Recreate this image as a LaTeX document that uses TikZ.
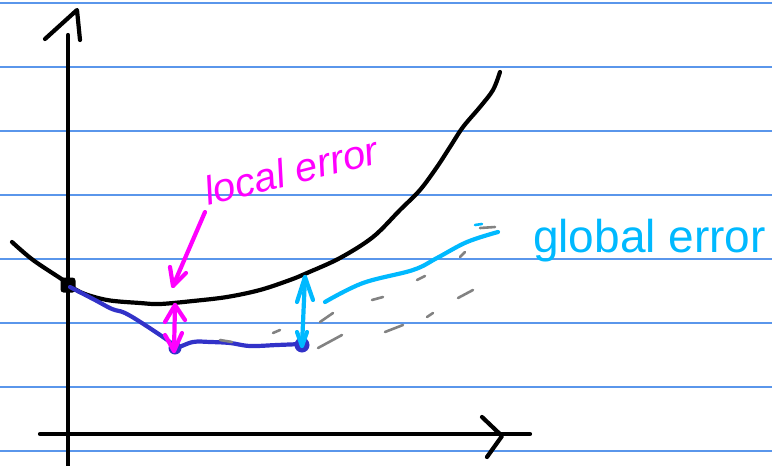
\documentclass[tikz,border=0pt]{standalone}
\usepackage{fontspec}
\setmainfont{Liberation Sans}
\usetikzlibrary{calc}
\definecolor{rule}{RGB}{90,150,235}
\definecolor{inkblue}{RGB}{50,50,200}
\definecolor{inkpink}{RGB}{255,0,255}
\definecolor{inkcyan}{RGB}{0,185,255}
\definecolor{inkgray}{RGB}{130,130,130}
\tikzset{
  ruleline/.style={rule, line width=1.3pt},
  pen/.style={line width=4.2pt, line cap=round, line join=round},
  thinpen/.style={line width=2.6pt, line cap=round, line join=round},
}
\begin{document}
\begin{tikzpicture}[x=1pt,y=-1pt]
\useasboundingbox (0,0) rectangle (772,466);
% ruled paper
\foreach \yy in {3,67,131,195,259,323,387,451}
  \draw[ruleline] (0,\yy) -- (772,\yy);
% axes
\coordinate (ytop) at (68,35);
\coordinate (ybot) at (68,466);
\draw[pen, black] (ybot) -- (ytop);
\draw[pen, black] (45,39) -- (77,10) -- (80,40);
\coordinate (xl) at (40,434);
\coordinate (xr) at (530,434);
\draw[pen, black] (xl) -- (xr);
\draw[pen, black] (482,417) -- (502,436) -- (487,457);
% black curve
\draw[pen, black] plot[smooth, tension=0.55] coordinates {(12,242) (33,260) (63,280) (80,292) (107,300) (140,303) (160,304) (193,301) (227,297) (260,290) (290,280) (307,273) (340,258) (373,237) (400,210) (420,190) (437,167) (450,147) (463,127) (480,107) (493,90) (500,72)};
\coordinate (p0) at (68,285);
\fill[black, rounded corners=3pt] ($(p0)+(-7.5,-7.5)$) rectangle ($(p0)+(7.5,7.5)$);
% blue approximation
\coordinate (b1) at (175,348);
\coordinate (b2) at (302,345);
\draw[pen, inkblue] plot[smooth, tension=0.6] coordinates {(70,287) (95,300) (112,309) (125,313) (145,325) (170,342) (175,348) (193,342) (210,342) (230,343) (250,346) (277,345) (302,344)};
\fill[inkblue] (b1) circle (6.5);
\fill[inkblue] (b2) circle (7.5);
% gray dashed strokes
\foreach \a/\b in {{(220,340)}/{(232,342)},{(273,333)}/{(280,330)},{(320,322)}/{(333,313)},{(372,300)}/{(383,297)},{(417,280)}/{(425,276)},{(460,257)}/{(465,252)},{(480,228)}/{(495,227)},{(318,348)}/{(342,335)},{(385,332)}/{(403,325)},{(427,317)}/{(433,313)},{(458,298)}/{(473,290)}}
  \draw[thinpen, inkgray] \a -- \b;
% local error
\node[inkpink, rotate=14, anchor=base west, inner sep=0pt, font=\fontsize{40}{40}\selectfont\itshape] (lerr) at (208,206) {local error};
\coordinate (la) at (205,212);
\coordinate (lb) at (173,286);
\draw[pen, inkpink] (la) -- (lb);
\draw[pen, inkpink] (170,267) -- (lb) -- (186,273);
\coordinate (lt) at (175,305);
\coordinate (lbt) at (174,351);
\draw[pen, inkpink] (lt) -- (lbt);
\draw[pen, inkpink] (165,322) -- (lt) -- (185,320);
\draw[pen, inkpink] (165,335) -- (lbt) -- (182,333);
% global error
\coordinate (gt) at (305,277);
\coordinate (gb) at (302,346);
\draw[pen, inkcyan] (gt) -- (gb);
\draw[pen, inkcyan] (297,302) -- (gt) -- (313,300);
\draw[pen, inkcyan] (297,332) -- (gb) -- (307,332);
\draw[pen, inkcyan] plot[smooth, tension=0.6] coordinates {(325,302) (363,283) (413,270) (437,258) (467,242) (498,232)};
\draw[thinpen, inkcyan] (475,225) -- (482,224);
\node[inkcyan, anchor=base west, inner sep=0pt, font=\fontsize{46}{46}\selectfont] (gerr) at (533,252) {global error};
\end{tikzpicture}
\end{document}
